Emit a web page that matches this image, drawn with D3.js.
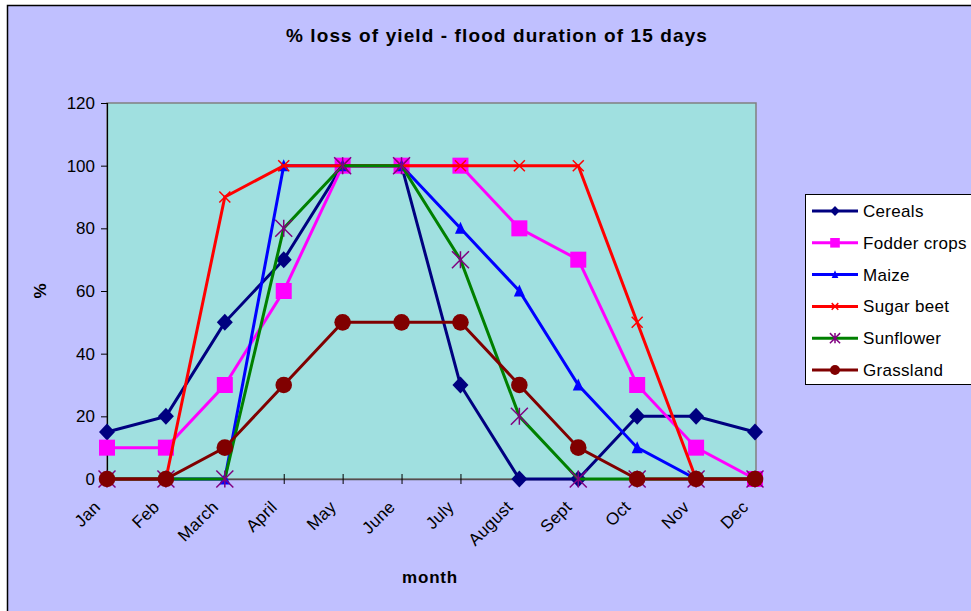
<!DOCTYPE html>
<html>
<head>
<meta charset="utf-8">
<script src="https://cdn.jsdelivr.net/npm/d3@7"></script>
<style>
  body { margin: 0; background: #fff; }
  text { font-family: Arial, "Liberation Sans", sans-serif; }
</style>
</head>
<body>
<svg id="chart" width="971" height="611"></svg>
<script>
const months = ["Jan", "Feb", "March", "April", "May", "June", "July", "August", "Sept", "Oct", "Nov", "Dec"];
const yTicks = [0, 20, 40, 60, 80, 100, 120];

const cereals = [15, 20, 50, 70, 100, 100, 30, 0, 0, 20, 20, 15];
const fodderCrops = [10, 10, 30, 60, 100, 100, 100, 80, 70, 30, 10, 0];
const maize = [0, 0, 0, 100, 100, 100, 80, 60, 30, 10, 0, 0];
const sugarBeet = [0, 0, 90, 100, 100, 100, 100, 100, 100, 50, 0, 0];
const sunflower = [0, 0, 0, 80, 100, 100, 70, 20, 0, 0, 0, 0];
const grassland = [0, 0, 10, 30, 50, 50, 50, 30, 10, 0, 0, 0];

const seriesNames = ["Cereals", "Fodder crops", "Maize", "Sugar beet", "Sunflower", "Grassland"];
const seriesValues = [cereals, fodderCrops, maize, sugarBeet, sunflower, grassland];

// line colour, marker colour, marker type
const styles = [
    { line: "#000080", mark: "#000080", shape: "diamond" },
    { line: "#FF00FF", mark: "#FF00FF", shape: "square" },
    { line: "#0000FF", mark: "#0000FF", shape: "triangle" },
    { line: "#FF0000", mark: "#FF0000", shape: "x" },
    { line: "#008000", mark: "#800080", shape: "star" },
    { line: "#800000", mark: "#800000", shape: "circle" }
];

const svg = d3.select("#chart");

// outer chart area
svg.append("rect")
    .attr("x", 7.5).attr("y", 5.5)
    .attr("width", 980).attr("height", 620)
    .attr("fill", "#C0C0FF")
    .attr("stroke", "#000").attr("stroke-width", 1.5);

const plot = { left: 107, top: 103, right: 756, bottom: 479 };

const x = d3.scalePoint()
    .domain(months)
    .range([plot.left, plot.right - 1]);
const y = d3.scaleLinear()
    .domain([0, 120])
    .range([plot.bottom, plot.top]);

svg.append("rect")
    .attr("x", plot.left).attr("y", plot.top)
    .attr("width", plot.right - plot.left).attr("height", plot.bottom - plot.top)
    .attr("fill", "#A0E0E0")
    .attr("stroke", "#808080").attr("stroke-width", 1.5);

// title
svg.append("text")
    .attr("x", 497).attr("y", 42)
    .attr("text-anchor", "middle")
    .style("font-size", "19px").style("font-weight", "bold")
    .style("letter-spacing", "1.1px")
    .text("% loss of yield - flood duration of 15 days");

// y axis
const yAxis = svg.append("g")
    .attr("transform", "translate(" + plot.left + ",0)")
    .call(d3.axisLeft(y).tickValues(yTicks).tickSize(6).tickPadding(6));
yAxis.select(".domain").attr("stroke", "#000").attr("stroke-width", 1.2);
yAxis.selectAll(".tick line").attr("stroke", "#000");
yAxis.selectAll(".tick text")
    .attr("fill", "#000")
    .style("font-size", "17px")
    .style("font-family", "Arial, 'Liberation Sans', sans-serif");

svg.append("text")
    .attr("transform", "translate(46,291) rotate(-90)")
    .attr("text-anchor", "middle")
    .style("font-size", "17px").style("font-weight", "bold")
    .text("%");

// x axis
const xAxis = svg.append("g")
    .attr("transform", "translate(0," + plot.bottom + ")")
    .call(d3.axisBottom(x).tickSize(5).tickSizeOuter(0));
xAxis.select(".domain").attr("stroke", "#505050").attr("stroke-width", 1.5);
xAxis.selectAll(".tick line").attr("stroke", "#000").attr("y1", -5).attr("y2", 5);
xAxis.selectAll(".tick text")
    .attr("fill", "#000")
    .style("font-size", "17px")
    .style("letter-spacing", "0.3px")
    .style("font-family", "Arial, 'Liberation Sans', sans-serif")
    .attr("text-anchor", "end")
    .attr("dy", null).attr("y", 0)
    .attr("transform", "translate(-6,29) rotate(-45)");

svg.append("text")
    .attr("x", 430).attr("y", 583)
    .attr("text-anchor", "middle")
    .style("font-size", "17px").style("font-weight", "bold")
    .style("letter-spacing", "0.8px")
    .text("month");

// markers
function drawMarker(g, shape, color, cx, cy, scale) {
    const s = scale || 1;
    if (shape === "diamond") {
        const w = 8 * s, h = 8.5 * s;
        g.append("path")
            .attr("d", "M" + cx + "," + (cy - h) + "L" + (cx + w) + "," + cy +
                "L" + cx + "," + (cy + h) + "L" + (cx - w) + "," + cy + "Z")
            .attr("fill", color);
    } else if (shape === "square") {
        const h = 8 * s;
        g.append("rect")
            .attr("x", cx - h).attr("y", cy - h)
            .attr("width", 2 * h).attr("height", 2 * h)
            .attr("fill", color);
    } else if (shape === "triangle") {
        const h = 5.5 * s;
        g.append("path")
            .attr("d", "M" + cx + "," + (cy - h - 1) + "L" + (cx + h) + "," + (cy + h) + "L" + (cx - h) + "," + (cy + h) + "Z")
            .attr("fill", color);
    } else if (shape === "x") {
        const h = 5.5 * s;
        g.append("path")
            .attr("d", "M" + (cx - h) + "," + (cy - h) + "L" + (cx + h) + "," + (cy + h) +
                "M" + (cx - h) + "," + (cy + h) + "L" + (cx + h) + "," + (cy - h))
            .attr("stroke", color).attr("stroke-width", 1.5).attr("fill", "none");
    } else if (shape === "star") {
        const h = 8.5 * s;
        g.append("path")
            .attr("d", "M" + (cx - h) + "," + (cy - h) + "L" + (cx + h) + "," + (cy + h) +
                "M" + (cx - h) + "," + (cy + h) + "L" + (cx + h) + "," + (cy - h) +
                "M" + cx + "," + (cy - h) + "L" + cx + "," + (cy + h))
            .attr("stroke", color).attr("stroke-width", 1.5).attr("fill", "none");
    } else if (shape === "circle") {
        g.append("circle")
            .attr("cx", cx).attr("cy", cy).attr("r", 8.3 * s)
            .attr("fill", color);
    }
}

const line = d3.line()
    .x(function (d, i) { return x(months[i]); })
    .y(function (d) { return y(d); });

seriesValues.forEach(function (vals, k) {
    const st = styles[k];
    const g = svg.append("g").attr("class", "series");
    g.append("path")
        .datum(vals)
        .attr("d", line)
        .attr("fill", "none")
        .attr("stroke", st.line)
        .attr("stroke-width", 3);
    vals.forEach(function (v, i) {
        drawMarker(g, st.shape, st.mark, x(months[i]), y(v));
    });
});

// legend
const legend = svg.append("g");
legend.append("rect")
    .attr("x", 805.5).attr("y", 194.5)
    .attr("width", 200).attr("height", 190)
    .attr("fill", "#fff")
    .attr("stroke", "#000").attr("stroke-width", 1);

seriesNames.forEach(function (name, k) {
    const st = styles[k];
    const ly = 211 + k * 31.8;
    legend.append("line")
        .attr("x1", 812).attr("x2", 858)
        .attr("y1", ly).attr("y2", ly)
        .attr("stroke", st.line).attr("stroke-width", 3);
    drawMarker(legend, st.shape, st.mark, 835, ly, 0.6);
    legend.append("text")
        .attr("x", 863).attr("y", ly + 6)
        .style("font-size", "17px")
        .style("letter-spacing", "0.3px")
        .text(name);
});
</script>
</body>
</html>
